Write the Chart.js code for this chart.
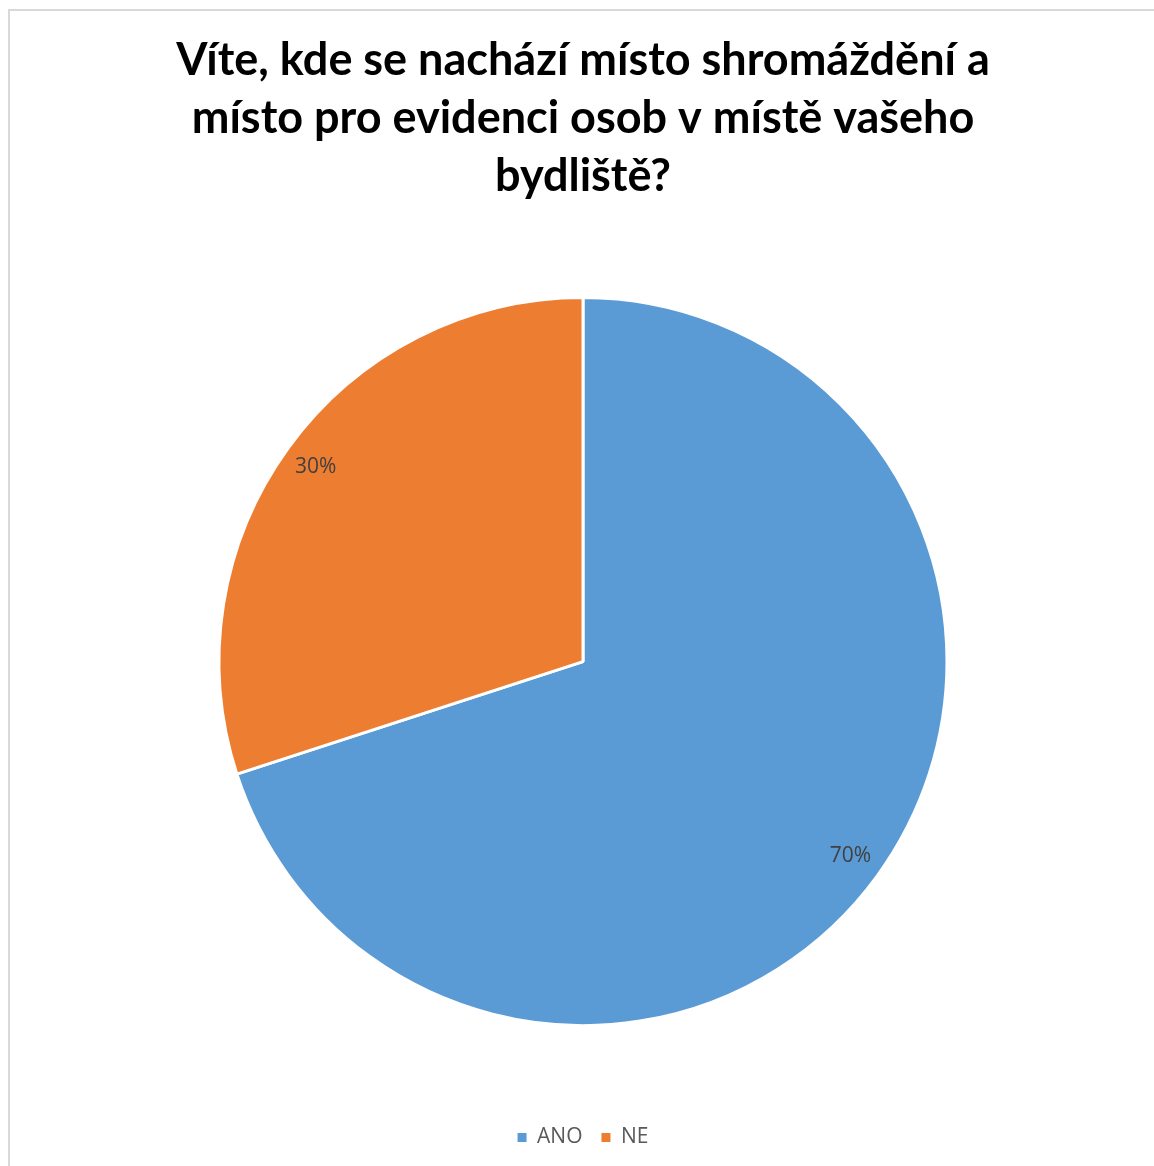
<!DOCTYPE html>
<html>
<head>
<meta charset="utf-8">
<script src="https://cdn.jsdelivr.net/npm/chart.js@4"></script>
<style>
  html, body { margin: 0; padding: 0; background: #fff; overflow: hidden; }
  #wrap { position: absolute; left: 0; top: 0; width: 1154px; height: 1166px; }
  #frame { position: absolute; left: 8px; top: 9px; width: 1170px; height: 1180px; border: 2px solid #d9d9d9; box-sizing: border-box; }
  canvas { position: absolute; left: 0; top: 0; }
</style>
</head>
<body>
<div id="wrap">
  <div id="frame"></div>
  <canvas id="c" width="1154" height="1166"></canvas>
</div>
<script>
const titleLines = ["Víte, kde se nachází místo shromáždění a", "místo pro evidenci osob v místě vašeho", "bydliště?"];
const categories = ["ANO", "NE"];
const values = [70, 30];
const valueLabels = ["70%", "30%"];
const colors = ["#5B9BD5", "#ED7D31"];

const dataLabelPlugin = {
  id: 'dataLabels',
  afterDatasetsDraw(chart) {
    const ctx = chart.ctx;
    const meta = chart.getDatasetMeta(0);
    ctx.save();
    ctx.font = '21px "Open Sans", sans-serif';
    ctx.fillStyle = '#404040';
    ctx.textAlign = 'center';
    ctx.textBaseline = 'middle';
    meta.data.forEach((arc, i) => {
      const p = arc.getProps(['x', 'y', 'startAngle', 'endAngle', 'outerRadius'], true);
      const mid = (p.startAngle + p.endAngle) / 2;
      const d = p.outerRadius * 0.908;
      ctx.fillText(valueLabels[i], p.x + Math.cos(mid) * d, p.y + Math.sin(mid) * d);
    });
    ctx.restore();
  }
};

new Chart(document.getElementById('c'), {
  type: 'pie',
  data: {
    labels: categories,
    datasets: [{
      data: values,
      backgroundColor: colors,
      borderColor: '#ffffff',
      borderWidth: 3
    }]
  },
  options: {
    responsive: false,
    animation: false,
    radius: 364,
    layout: { padding: { left: 12, right: 0, top: 0, bottom: 8 } },
    plugins: {
      tooltip: { enabled: false },
      title: {
        display: true,
        text: titleLines,
        color: '#000000',
        font: { family: 'Lato', size: 45, weight: 'bold', lineHeight: 1.29 },
        padding: { top: 31, bottom: 89.5 }
      },
      subtitle: {
        display: true,
        position: 'bottom',
        weight: 500,
        text: ' ',
        font: { size: 1, lineHeight: '1px' },
        padding: { top: 0, bottom: 78.5 }
      },
      legend: {
        display: true,
        position: 'bottom',
        labels: {
          boxWidth: 9,
          boxHeight: 9,
          padding: 19,
          color: '#595959',
          font: { family: '"Open Sans"', size: 21 },
          generateLabels(chart) {
            const items = Chart.controllers.pie.overrides.plugins.legend.labels.generateLabels(chart);
            items.forEach(it => { it.lineWidth = 0; it.strokeStyle = 'rgba(0,0,0,0)'; });
            return items;
          }
        }
      }
    }
  },
  plugins: [dataLabelPlugin]
});
</script>
</body>
</html>
